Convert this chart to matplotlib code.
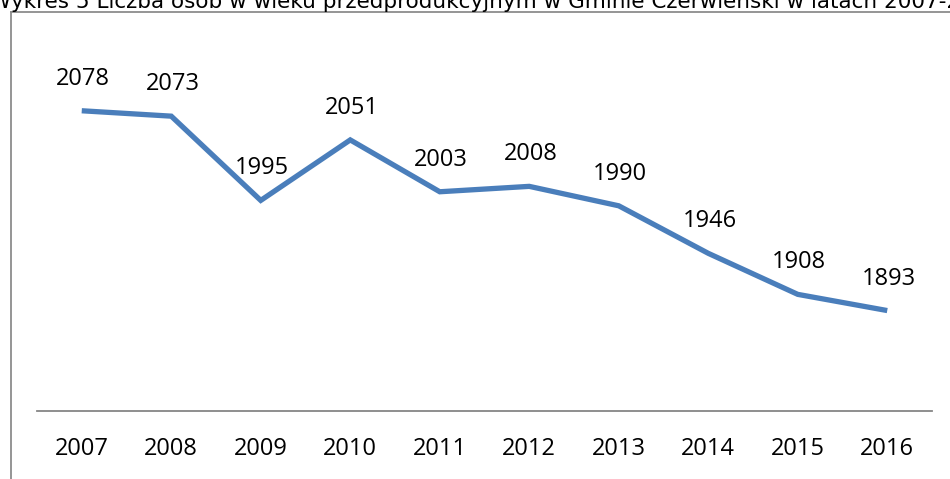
import numpy as np
import matplotlib
matplotlib.use("Agg")
import matplotlib.pyplot as plt
from matplotlib.lines import Line2D

years = ['2007', '2008', '2009', '2010', '2011', '2012', '2013', '2014', '2015', '2016']
values = [2078, 2073, 1995, 2051, 2003, 2008, 1990, 1946, 1908, 1893]
title = "Wykres 5 Liczba osób w wieku przedprodukcyjnym w Gminie Czerwieński w latach 2007-2016"

W, H = 950, 479
fig = plt.figure(figsize=(W / 100, H / 100), dpi=100)
ax = fig.add_axes([37 / W, 1 - 411 / H, (932 - 37) / W, (411 - 87) / H])

x = np.arange(len(years))
ax.plot(x, values, color='#4a7ebb', lw=3.8, solid_capstyle='butt', solid_joinstyle='miter')
for xi, v in zip(x, values):
    ax.annotate(str(v), (xi, v), xytext=(1, 23), textcoords='offset points',
                ha='center', va='center', fontsize=17, family='Open Sans', color='black')

ax.set_xlim(-0.5, len(years) - 0.5)
ax.set_ylim(1800, 2100)
ax.set_xticks(x)
ax.set_xticklabels(years, fontsize=17, family='Open Sans')
ax.tick_params(axis='x', length=0, pad=19)
ax.set_yticks([])
for s in ['top', 'right', 'left']:
    ax.spines[s].set_visible(False)
ax.spines['bottom'].set_color('#868686')
ax.spines['bottom'].set_linewidth(1.3)
ax.patch.set_alpha(0)

# chart frame (cut off by the image edges)
fig.add_artist(Line2D([11 / W, 11 / W], [0, 1 - 12 / H], color='#8c8c8c', lw=1.3))
fig.add_artist(Line2D([11 / W, 1], [1 - 12 / H, 1 - 12 / H], color='#8c8c8c', lw=1.3))

fig.text(-10 / W, 1 - 8 / H, title, ha='left', va='baseline', fontsize=15.5,
         family=['Liberation Sans Narrow', 'DejaVu Sans'], color='black')

fig.savefig('out.png', dpi=100)
